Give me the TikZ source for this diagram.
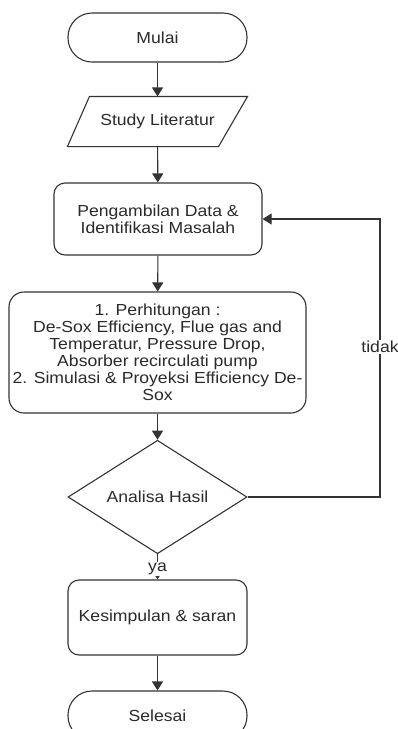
\documentclass[tikz,border=0pt]{standalone}
\usepackage{fontspec}
\setmainfont{Liberation Sans}[FakeStretch=1.1]
\usetikzlibrary{shapes.geometric,arrows.meta}
\definecolor{ln}{HTML}{333333}
\definecolor{tx}{HTML}{2a2a2a}
\begin{document}
\begin{tikzpicture}[x=1pt,y=-1pt,
  base/.style={draw=ln,line width=1.1pt,text=tx,inner sep=0pt,align=center,
    font=\fontsize{16}{17}\selectfont},
  term/.style={base,rectangle,rounded corners=24pt,minimum width=179pt,minimum height=49pt},
  proc/.style={base,rectangle,rounded corners=11pt},
  dec/.style={base,diamond,minimum width=179pt,minimum height=95pt},
  conn/.style={draw=ln,line width=1.1pt,-{Triangle[width=11pt,length=9pt]}},
  lbl/.style={fill=white,text=tx,inner sep=1pt,font=\fontsize{16}{17}\selectfont}]
\useasboundingbox (0,0) rectangle (398,729);
\clip (0,0) rectangle (398,729);
\node[term] (mulai) at (157.5,37.5) {Mulai};
\node[base,draw=none,rectangle,minimum width=179pt,minimum height=49pt] (study) at (157.5,121.5) {Study Literatur};
\draw[draw=ln,line width=1.1pt] ([xshift=22pt]study.north west) -- (study.north east)
  -- ([xshift=-29pt]study.south east) -- (study.south west) -- cycle;
\node[proc,minimum width=208pt,minimum height=72pt] (data) at (158,219)
  {Pengambilan Data \&\\Identifikasi Masalah};
\node[proc,rounded corners=15pt,minimum width=297pt,minimum height=121pt] (hit) at (157.5,352.5)
  {1. Perhitungan :\\De-Sox Efficiency, Flue gas and\\Temperatur, Pressure Drop,\\Absorber recirculati pump\\2. Simulasi \& Proyeksi Efficiency De-\\Sox};
\node[dec] (analisa) at (157.5,497) {Analisa Hasil};
\node[proc,minimum width=179pt,minimum height=75pt] (kes) at (157.5,617.5) {Kesimpulan \& saran};
\node[term] (selesai) at (157.5,715.5) {Selesai};
\coordinate (r) at (380,497);
\draw[conn] (mulai) -- (study);
\draw[conn] (study) -- (data);
\draw[conn] (data) -- (hit);
\draw[conn] (hit) -- (analisa);
\draw[conn] (analisa) -- node[lbl,pos=0.58] {ya} (kes);
\draw[conn] (kes) -- (selesai);
\draw[conn] (analisa.east) -- (r) |- node[lbl,pos=0.27] {tidak} (data.east);
\end{tikzpicture}
\end{document}
